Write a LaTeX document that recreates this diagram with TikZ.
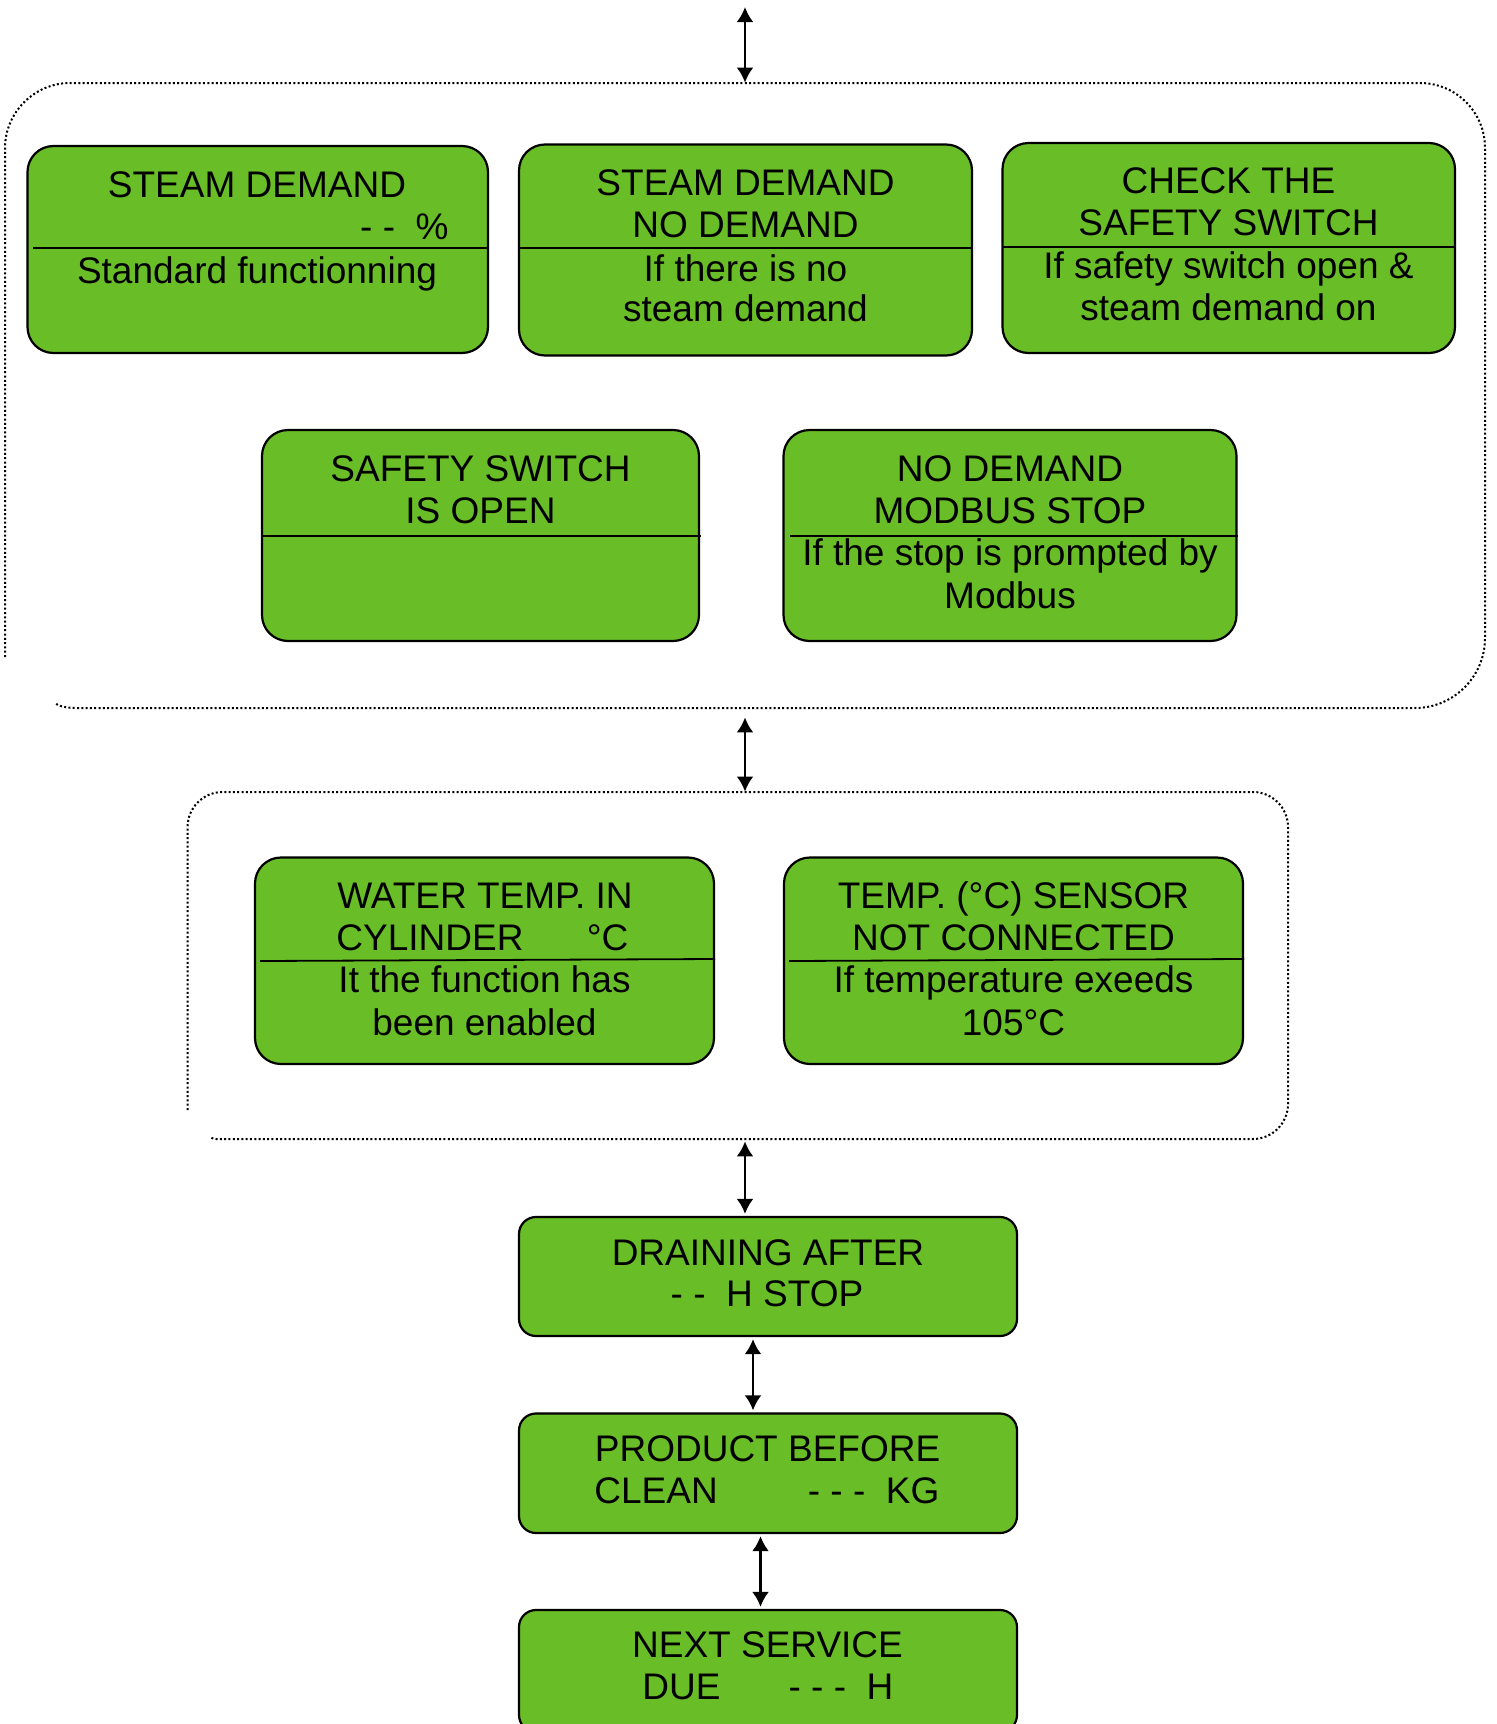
\documentclass[tikz,border=0pt]{standalone}
\usepackage{fontspec}
\setmainfont{Liberation Sans}
\usetikzlibrary{arrows.meta,fit,calc}
\definecolor{panelgreen}{HTML}{69BE28}
\begin{document}
\begin{tikzpicture}[x=0.5pt,y=-0.5pt,
  panel/.style={draw=black, line width=1.1pt, fill=panelgreen, rounded corners=13pt, inner sep=0pt},
  flatpanel/.style={panel, rounded corners=8.5pt},
  divider/.style={draw=black, line width=0.9pt},
  txt/.style={anchor=base, inner sep=0pt, font=\fontsize{18.5pt}{21pt}\selectfont},
  group/.style={draw=black, line width=1pt, dash pattern=on 1pt off 1.15pt},
  framebox/.style={inner sep=0pt},
  biarrow/.style={line width=1.35pt, {Latex[length=7.5pt,width=8.5pt]}-{Latex[length=7.5pt,width=8.5pt]}},
]
\useasboundingbox (0,0) rectangle (1496,1724);
\clip (0,0) rectangle (1496,1724);

% dotted group frames (open at the lower left corner)
\node[framebox, fit={(5,83) (1485,708)}] (grpA) {};
\node[framebox, fit={(187.6,792) (1288,1139)}] (grpB) {};
\draw[group] (5,657) -- (5,148) .. controls (5,112.9) and (34.1,83) .. (70,83)
  -- (1420,83) .. controls (1455.9,83) and (1485,112.1) .. (1485,148)
  -- (1485,638) .. controls (1485,676.6) and (1453.6,708) .. (1415,708)
  -- (76,708) .. controls (66,708) and (58,706) .. (55,703);
\draw[group] (187.6,1110) -- (187.6,827) .. controls (187.6,807.7) and (203.3,792) .. (222.6,792)
  -- (1253,792) .. controls (1272.3,792) and (1288,807.7) .. (1288,827)
  -- (1288,1104) .. controls (1288,1123.3) and (1272.3,1139) .. (1253,1139)
  -- (216,1139) .. controls (213,1139) and (211,1138) .. (210,1136);

% state panels
\node[panel, fit={(27.5,146) (488,353)}] (A) {};
\node[panel, fit={(519,144.5) (972,355.5)}] (B) {};
\node[panel, fit={(1002.5,143) (1455,353)}] (C) {};
\node[panel, fit={(262,430) (699,641)}] (D) {};
\node[panel, fit={(783.5,430) (1236.5,641)}] (E) {};
\node[panel, fit={(255,857.5) (714,1064)}] (F) {};
\node[panel, fit={(784,857.5) (1243,1064)}] (G) {};
\node[flatpanel, fit={(519,1217) (1017,1336)}] (H) {};
\node[flatpanel, fit={(519,1413.5) (1017,1533)}] (I) {};
\node[flatpanel, fit={(519,1610) (1017,1732)}] (J) {};

% title / condition separators
\draw[divider] (33,248) -- (489,248);
\draw[divider] (519,248) -- (973,248);
\draw[divider] (1002,247) -- (1456,247);
\draw[divider] (261,535.7) -- (701,535.7);
\draw[divider] (790,535.7) -- (1238,535.7);
\draw[divider] (260,961) -- (715,959);
\draw[divider] (789,961) -- (1244,959);

% texts
\node[txt] (A1) at (257,197) {STEAM DEMAND};
\node[txt, anchor=base east] (A2) at (449,239) {- -\ \ \%};
\node[txt] (A3) at (257,283) {Standard functionning};

\node[txt] (B1) at (745.5,195) {STEAM DEMAND};
\node[txt] (B2) at (745.5,237.7) {NO DEMAND};
\node[txt] (B3) at (745.5,281) {If there is no};
\node[txt] (B4) at (745.5,321.7) {steam demand};

\node[txt] (C1) at (1228.5,193) {CHECK THE};
\node[txt] (C2) at (1228.5,235) {SAFETY SWITCH};
\node[txt] (C3) at (1228.5,278) {If safety switch open \&};
\node[txt] (C4) at (1228.5,320) {steam demand on};

\node[txt] (D1) at (480.5,481.7) {SAFETY SWITCH};
\node[txt] (D2) at (480.5,523.3) {IS OPEN};

\node[txt] (E1) at (1010,481.7) {NO DEMAND};
\node[txt] (E2) at (1010,523.3) {MODBUS STOP};
\node[txt] (E3) at (1010,565) {If the stop is prompted by};
\node[txt] (E4) at (1010,608.3) {Modbus};

\node[txt] (F1) at (485,908.3) {WATER TEMP. IN};
\node[txt, anchor=base west] (F2) at (336,950) {\makebox[146pt][s]{CYLINDER\hfill°C}};
\node[txt] (F3) at (484.5,992.7) {It the function has};
\node[txt] (F4) at (484.5,1035) {been enabled};

\node[txt] (G1) at (1013.5,908.3) {TEMP. (°C) SENSOR};
\node[txt] (G2) at (1013.5,950) {NOT CONNECTED};
\node[txt] (G3) at (1013.5,992.7) {If temperature exeeds};
\node[txt] (G4) at (1013.5,1035) {105°C};

\node[txt] (H1) at (768,1265.4) {DRAINING AFTER};
\node[txt] (H2) at (767,1306.8) {- -\ \ H STOP};

\node[txt] (I1) at (767.6,1461.4) {PRODUCT BEFORE};
\node[txt, anchor=base west] (I2) at (594,1503.5) {\makebox[172.5pt][s]{CLEAN\hfill- - -\ \ KG}};

\node[txt] (J1) at (767.5,1657.5) {NEXT SERVICE};
\node[txt, anchor=base west] (J2) at (642,1699.6) {\makebox[125.5pt][s]{DUE\hfill- - -\ \ H}};

% navigation arrows
\coordinate (feed) at (745,7);
\draw[biarrow] (feed) -- (grpA.north -| feed);
\draw[biarrow, shorten <=4.5pt] (grpA.south -| feed) -- (grpB.north -| feed);
\draw[biarrow, shorten <=1pt, shorten >=1pt] (grpB.south -| feed) -- (H.north -| feed);
\draw[biarrow, shorten <=1pt, shorten >=1pt] ($(H.south)+(-15,0)$) -- ($(I.north)+(-15,0)$);
\draw[biarrow, shorten <=1pt, shorten >=1pt] ($(I.south)+(-7.5,0)$) -- ($(J.north)+(-7.5,0)$);
\end{tikzpicture}
\end{document}
